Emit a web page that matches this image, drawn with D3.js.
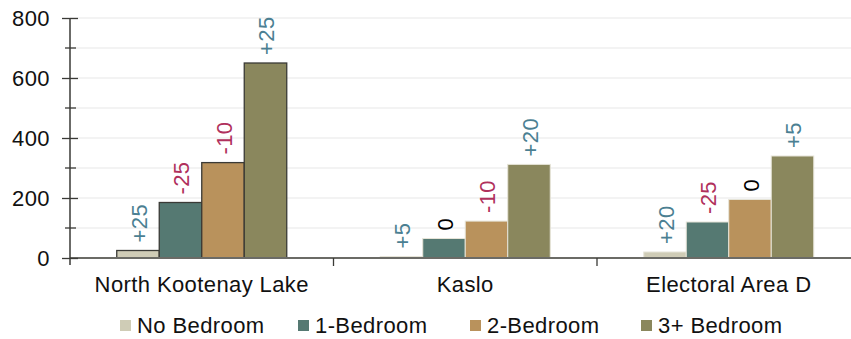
<!DOCTYPE html>
<html><head><meta charset="utf-8">
<script src="https://cdn.jsdelivr.net/npm/d3@7"></script>
<style>
body{margin:0;background:#fff;}
text{font-family:"Liberation Sans",Arial,sans-serif;}
</style></head>
<body><svg id="c" width="851" height="339"></svg>
<script>
const categories = ["North Kootenay Lake", "Kaslo", "Electoral Area D"];
const seriesNames = ["No Bedroom", "1-Bedroom", "2-Bedroom", "3+ Bedroom"];
const noBedroom = [25, 5, 20];
const oneBedroom = [185, 65, 120];
const twoBedroom = [318, 123, 195];
const threeBedroom = [650, 312, 340];
const noBedroomChange = ["+25", "+5", "+20"];
const oneBedroomChange = ["-25", "0", "-25"];
const twoBedroomChange = ["-10", "-10", "0"];
const threeBedroomChange = ["+25", "+20", "+5"];
const yTicks = [0, 200, 400, 600, 800];
const yMinorTicks = [100, 300, 500, 700];

(function(){
const seriesValues = [noBedroom, oneBedroom, twoBedroom, threeBedroom];
const seriesChanges = [noBedroomChange, oneBedroomChange, twoBedroomChange, threeBedroomChange];
const colors = ["#cfccb6", "#557972", "#b9925c", "#8a875d"];

const svg = d3.select("#c");
const mLeft = 70, mRight = 860.5, mTop = 18, mBottom = 258;
const FS = 22, LS = 0.4;

const x0 = d3.scaleBand().domain(categories).range([mLeft, mRight]).paddingInner(0).paddingOuter(0);
const x1 = d3.scaleBand().domain(seriesNames).range([0, x0.bandwidth()]).paddingOuter(1.1).paddingInner(0);
const y = d3.scaleLinear().domain([0, 800]).range([mBottom, mTop]);

svg.append("g").selectAll("line").data(d3.range(100, 801, 100)).join("line")
  .attr("x1", mLeft).attr("x2", 851).attr("y1", d => y(d)).attr("y2", d => y(d))
  .attr("stroke", "#efefef").attr("stroke-width", 1.5);

const data = [];
categories.forEach((c, ci) => seriesNames.forEach((s, si) => {
  data.push({c, s, si, ci, v: seriesValues[si][ci], lab: seriesChanges[si][ci]});
}));
svg.append("g").selectAll("rect").data(data).join("rect")
  .attr("x", d => x0(d.c) + x1(d.s))
  .attr("width", x1.bandwidth())
  .attr("y", d => y(d.v))
  .attr("height", d => y(0) - y(d.v))
  .attr("fill", d => colors[d.si])
  .attr("stroke", d => d.ci === 0 ? "#3a3a36" : "#e6e4d8")
  .attr("stroke-width", d => d.ci === 0 ? 1.3 : 1);

svg.append("g").selectAll("text").data(data).join("text")
  .attr("transform", d => `translate(${x0(d.c) + x1(d.s) + x1.bandwidth()/2 + 1},${y(d.v) - 8}) rotate(-90)`)
  .attr("dy", "0.36em")
  .attr("text-anchor", "start")
  .attr("font-size", FS)
  .attr("letter-spacing", LS)
  .attr("fill", d => d.lab.startsWith("+") ? "#4b7f92" : d.lab.startsWith("-") ? "#b0305c" : "#000")
  .text(d => d.lab);

svg.append("line").attr("x1", mLeft).attr("x2", 851).attr("y1", y(0)).attr("y2", y(0))
  .attr("stroke", "#6b6b66").attr("stroke-width", 2);
svg.append("g").selectAll("line").data(categories.slice(1)).join("line")
  .attr("x1", d => x0(d)).attr("x2", d => x0(d)).attr("y1", y(0)).attr("y2", y(0) + 8)
  .attr("stroke", "#3a3a36").attr("stroke-width", 1.3);
svg.append("g").selectAll("text").data(categories).join("text")
  .attr("x", d => x0(d) + x0.bandwidth()/2)
  .attr("y", 292)
  .attr("text-anchor", "middle")
  .attr("font-size", FS)
  .attr("letter-spacing", LS)
  .attr("fill", "#111")
  .text(d => d);

const yAxis = d3.axisLeft(y).tickValues(yTicks).tickSize(8).tickPadding(12);
const yg = svg.append("g").attr("transform", `translate(${mLeft},0)`).call(yAxis);
yg.select(".domain").remove();
yg.selectAll(".tick line").attr("x2", 8).attr("x1", -8).attr("stroke", "#3a3a36").attr("stroke-width", 1.3);
yg.selectAll(".tick text").attr("font-size", FS).attr("font-family", "Liberation Sans, Arial, sans-serif").attr("fill", "#111").attr("letter-spacing", LS);
svg.append("line").attr("x1", mLeft).attr("x2", mLeft).attr("y1", mTop).attr("y2", mBottom + 7)
  .attr("stroke", "#3a3a36").attr("stroke-width", 1.5);
svg.append("g").selectAll("line").data(yMinorTicks).join("line")
  .attr("x1", mLeft - 5).attr("x2", mLeft + 6).attr("y1", d => y(d)).attr("y2", d => y(d))
  .attr("stroke", "#3a3a36").attr("stroke-width", 1.3);

const legendX = [120, 298, 470, 641];
const lg = svg.append("g").selectAll("g").data(seriesNames).join("g")
  .attr("transform", (d, i) => `translate(${legendX[i]},320)`);
lg.append("rect").attr("width", 11).attr("height", 11).attr("fill", (d, i) => colors[i]);
lg.append("text").attr("x", 17).attr("y", 12.5).attr("font-size", FS).attr("letter-spacing", LS).attr("fill", "#111").text(d => d);
})();
</script></body></html>
